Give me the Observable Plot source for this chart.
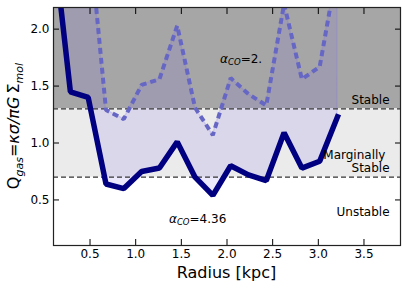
<!DOCTYPE html>
<html>
<head>
<meta charset="utf-8">
<script src="https://cdn.jsdelivr.net/npm/d3@7"></script>
<script src="https://cdn.jsdelivr.net/npm/@observablehq/plot@0.6"></script>
<style>
  html, body { margin: 0; padding: 0; background: white; }
  #chart svg { display: block; }
</style>
</head>
<body>
<div id="chart"></div>
<script>
// ---- data ----
const radius   = [0.09, 0.285, 0.48, 0.675, 0.87, 1.065, 1.26, 1.455, 1.65, 1.845, 2.04, 2.235, 2.43, 2.625, 2.82, 3.015, 3.21];
const qAlpha436 = [2.84, 1.45, 1.40, 0.64, 0.60, 0.75, 0.78, 1.01, 0.70, 0.54, 0.80, 0.72, 0.67, 1.09, 0.78, 0.84, 1.23];
const qAlpha2   = [5.6, 2.9, 2.92, 1.29, 1.21, 1.51, 1.56, 2.03, 1.31, 1.07, 1.57, 1.43, 1.33, 2.22, 1.56, 1.67, 2.55];
const stableLevel = 1.3;
const marginalLevel = 0.7;
const xTicks = [0.5, 1.0, 1.5, 2.0, 2.5, 3.0, 3.5];
const yTicks = [0.5, 1.0, 1.5, 2.0];
const xDomain = [0.1, 3.9];
const yDomain = [0.1, 2.19];
const regionLabels = [
  {r: 3.78, q: 1.345, text: "Stable"},
  {r: 3.735, q: 0.862, text: "Marginally"},
  {r: 3.78, q: 0.749, text: "Stable"},
  {r: 3.78, q: 0.362, text: "Unstable"}
];
const alphaLabels = [
  {r: 1.93, q: 1.70, value: "2."},
  {r: 1.37, q: 0.295, value: "4.36"}
];

const rows = radius.map((r, i) => ({r, a436: qAlpha436[i], a2: qAlpha2[i]}));
const bands = [
  {y1: stableLevel, y2: yDomain[1], fill: "#a6a6a6"},
  {y1: marginalLevel, y2: stableLevel, fill: "#ebebeb"}
];

const plot = Plot.plot({
  width: 407,
  height: 290,
  marginLeft: 53,
  marginRight: 7,
  marginTop: 7,
  marginBottom: 45,
  style: {fontFamily: "DejaVu Sans", fontSize: "12px", color: "black", background: "white"},
  x: {domain: xDomain},
  y: {domain: yDomain},
  marks: [
    Plot.rect(bands, {x1: xDomain[0], x2: xDomain[1], y1: "y1", y2: "y2", fill: "fill"}),
    Plot.areaY(rows, {x: "r", y1: "a436", y2: "a2", fill: "#7b68ee", fillOpacity: 0.15,
      stroke: "#7b68ee", strokeOpacity: 0.2, strokeWidth: 1.5, clip: true}),
    Plot.ruleY([stableLevel, marginalLevel], {stroke: "#333", strokeWidth: 1.2, strokeDasharray: "5,3"}),
    Plot.line(rows, {x: "r", y: "a2", stroke: "#6666c4", strokeWidth: 4, strokeDasharray: "6,4",
      strokeLinejoin: "miter", strokeLinecap: "butt", clip: true}),
    Plot.line(rows, {x: "r", y: "a436", stroke: "#000080", strokeWidth: 5.5,
      strokeLinejoin: "miter", strokeLinecap: "square", clip: true}),
    Plot.text(regionLabels, {x: "r", y: "q", text: "text", textAnchor: "end", lineAnchor: "bottom", fontSize: 12, fill: "black"}),
    Plot.axisX(xTicks, {anchor: "bottom", tickSize: -6, tickPadding: 10, tickFormat: d3.format(".1f"), label: null, fontSize: 12, stroke: "black"}),
    Plot.axisX(xTicks, {anchor: "top", tickSize: -6, tickFormat: () => "", label: null}),
    Plot.axisY(yTicks, {anchor: "left", tickSize: -6, tickPadding: 10, tickFormat: d3.format(".1f"), label: null, fontSize: 12}),
    Plot.axisY(yTicks, {anchor: "right", tickSize: -6, tickFormat: () => "", label: null}),
    Plot.frame({stroke: "#222", strokeWidth: 1.2})
  ]
});

document.getElementById("chart").appendChild(plot);

const svg = d3.select(plot);
const xs = plot.scale("x"), ys = plot.scale("y");

// x axis title
svg.append("text")
  .attr("x", (xs.range[0] + xs.range[1]) / 2)
  .attr("y", 278)
  .attr("text-anchor", "middle")
  .style("font-family", "DejaVu Sans")
  .style("font-size", "16px")
  .attr("fill", "black")
  .text("Radius [kpc]");

// y axis title with sub-scripts
const yl = svg.append("text")
  .attr("transform", `translate(19,${(ys.range[0] + ys.range[1]) / 2}) rotate(-90)`)
  .attr("text-anchor", "middle")
  .style("font-family", "DejaVu Sans")
  .style("font-size", "16px")
  .attr("fill", "black");
yl.append("tspan").text("Q");
yl.append("tspan").attr("dy", 3.5).style("font-size", "11px").style("font-style", "italic").text("gas");
yl.append("tspan").attr("dy", -3.5).text("=");
yl.append("tspan").style("font-style", "italic").text("κσ/πG");
yl.append("tspan").text("\u2009Σ");
yl.append("tspan").attr("dy", 3.5).style("font-size", "11px").style("font-style", "italic").text("mol");

// alpha_CO annotations
for (const a of alphaLabels) {
  const t = svg.append("text")
    .attr("x", xs.apply(a.r))
    .attr("y", ys.apply(a.q))
    .attr("text-anchor", "start")
    .style("font-family", "DejaVu Sans")
    .style("font-size", "12px")
    .attr("fill", "black");
  t.append("tspan").style("font-style", "italic").text("α");
  t.append("tspan").attr("dy", 2.5).style("font-size", "8.5px").style("font-style", "italic").text("CO");
  t.append("tspan").attr("dy", -2.5).text("=" + a.value);
}
</script>
</body>
</html>
